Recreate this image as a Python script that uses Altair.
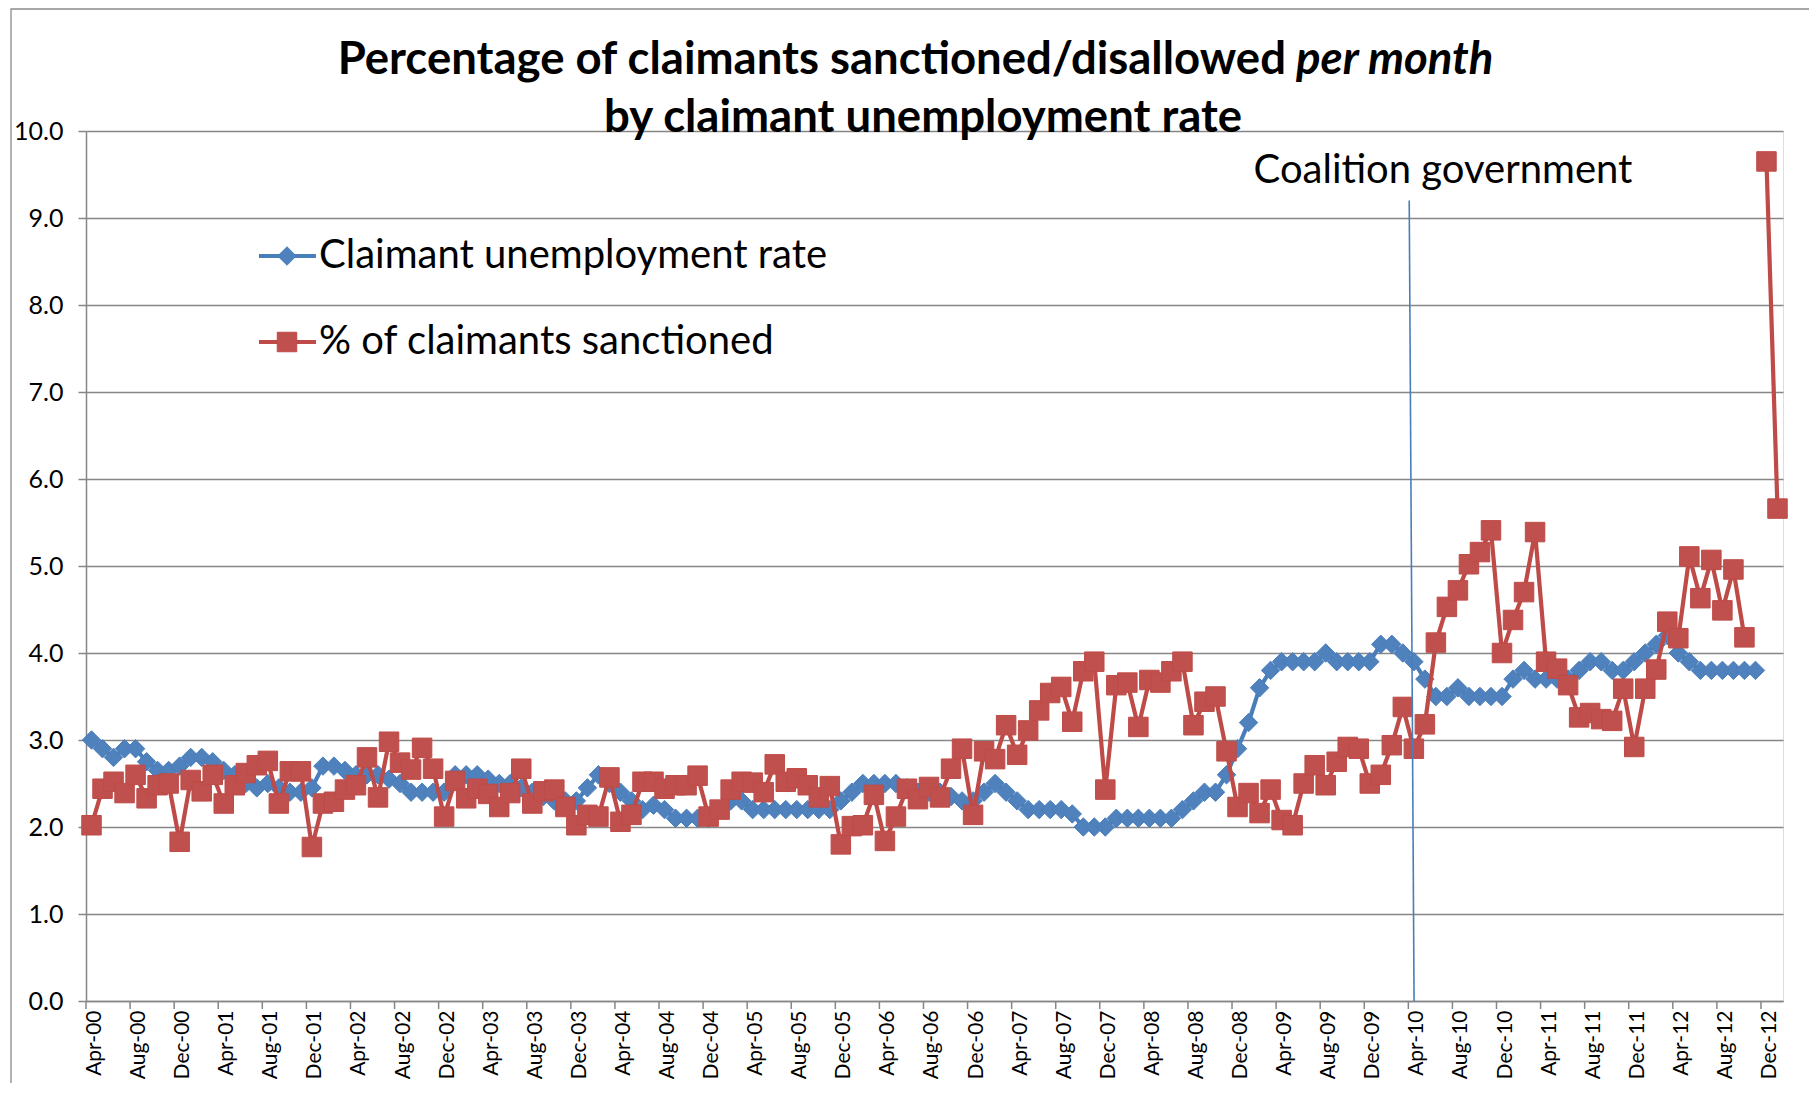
import json
import altair as alt
import pandas as pd

# ---------------- data ----------------
tick_labels = ["Apr-00", "Aug-00", "Dec-00", "Apr-01", "Aug-01", "Dec-01", "Apr-02", "Aug-02", "Dec-02",
               "Apr-03", "Aug-03", "Dec-03", "Apr-04", "Aug-04", "Dec-04", "Apr-05", "Aug-05", "Dec-05",
               "Apr-06", "Aug-06", "Dec-06", "Apr-07", "Aug-07", "Dec-07", "Apr-08", "Aug-08", "Dec-08",
               "Apr-09", "Aug-09", "Dec-09", "Apr-10", "Aug-10", "Dec-10", "Apr-11", "Aug-11", "Dec-11",
               "Apr-12", "Aug-12", "Dec-12"]

# monthly, Apr-00 .. Nov-12
unemployment_rate = [
    3.0, 2.9, 2.8, 2.9, 2.9, 2.75, 2.65, 2.65, 2.7, 2.8,
    2.8, 2.75, 2.65, 2.6, 2.5, 2.45, 2.5, 2.45, 2.4, 2.4,
    2.45, 2.7, 2.7, 2.65, 2.6, 2.6, 2.6, 2.55, 2.5, 2.4,
    2.4, 2.4, 2.4, 2.6, 2.6, 2.6, 2.55, 2.5, 2.5, 2.45,
    2.4, 2.35, 2.3, 2.3, 2.3, 2.45, 2.6, 2.5, 2.4, 2.3,
    2.2, 2.25, 2.2, 2.1, 2.1, 2.1, 2.1, 2.2, 2.3, 2.3,
    2.2, 2.2, 2.2, 2.2, 2.2, 2.2, 2.2, 2.2, 2.3, 2.4,
    2.5, 2.5, 2.5, 2.5, 2.45, 2.4, 2.4, 2.4, 2.35, 2.3,
    2.3, 2.4, 2.5, 2.4, 2.3, 2.2, 2.2, 2.2, 2.2, 2.15,
    2.0, 2.0, 2.0, 2.1, 2.1, 2.1, 2.1, 2.1, 2.1, 2.2,
    2.3, 2.4, 2.4, 2.6, 2.9, 3.2, 3.6, 3.8, 3.9, 3.9,
    3.9, 3.9, 4.0, 3.9, 3.9, 3.9, 3.9, 4.1, 4.1, 4.0,
    3.9, 3.7, 3.5, 3.5, 3.6, 3.5, 3.5, 3.5, 3.5, 3.7,
    3.8, 3.7, 3.7, 3.7, 3.7, 3.8, 3.9, 3.9, 3.8, 3.8,
    3.9, 4.0, 4.1, 4.2, 4.0, 3.9, 3.8, 3.8, 3.8, 3.8,
    3.8, 3.8,
]

# monthly, Apr-00 .. Jan-13 (Nov-12 missing)
sanction_rate = [
    2.02, 2.44, 2.52, 2.39, 2.60, 2.33, 2.48, 2.50, 1.83, 2.54,
    2.41, 2.60, 2.27, 2.48, 2.62, 2.71, 2.76, 2.27, 2.64, 2.64,
    1.77, 2.27, 2.29, 2.43, 2.48, 2.80, 2.34, 2.98, 2.74, 2.66,
    2.91, 2.67, 2.12, 2.53, 2.33, 2.44, 2.38, 2.23, 2.39, 2.67,
    2.27, 2.41, 2.43, 2.23, 2.02, 2.14, 2.12, 2.57, 2.06, 2.14,
    2.52, 2.52, 2.44, 2.48, 2.48, 2.59, 2.12, 2.20, 2.43, 2.52,
    2.51, 2.40, 2.72, 2.52, 2.56, 2.48, 2.34, 2.47, 1.80, 2.01,
    2.02, 2.37, 1.84, 2.12, 2.44, 2.32, 2.46, 2.34, 2.67, 2.90,
    2.14, 2.87, 2.78, 3.17, 2.83, 3.11, 3.34, 3.54, 3.61, 3.21,
    3.79, 3.90, 2.43, 3.63, 3.66, 3.15, 3.69, 3.66, 3.79, 3.90,
    3.17, 3.44, 3.50, 2.87, 2.23, 2.39, 2.16, 2.43, 2.08, 2.02,
    2.50, 2.71, 2.48, 2.75, 2.92, 2.90, 2.50, 2.60, 2.94, 3.38,
    2.90, 3.18, 4.12, 4.53, 4.72, 5.02, 5.16, 5.41, 4.00, 4.38,
    4.70, 5.39, 3.90, 3.82, 3.63, 3.26, 3.31, 3.24, 3.22, 3.59,
    2.92, 3.59, 3.81, 4.36, 4.17, 5.11, 4.63, 5.07, 4.49, 4.96,
    4.18, None, 9.65, 5.66,
]

y_ticks = [0, 1, 2, 3, 4, 5, 6, 7, 8, 9, 10]
title_main = "Percentage of claimants sanctioned/disallowed"
title_italic = "per month"
title_line2 = "by claimant unemployment rate"
legend_labels = ["Claimant unemployment rate", "% of claimants sanctioned"]
annotation_text = "Coalition government"
coalition_month = 120  # Apr-10

# ---------------- style ----------------
BLUE_LINE = "#4A7EBB"
BLUE_FILL = "#4F81BD"
RED_LINE = "#BE4B48"
RED_FILL = "#C0504D"
GRID = "#868686"
FONT = "Lato"
W, H = 1697, 870
n_months = len(sanction_rate)
DIAMOND = 340
SQUARE = 380
LINE_W = 4.2

u = pd.DataFrame({"m": list(range(len(unemployment_rate))), "v": unemployment_rate})
s = pd.DataFrame({"m": list(range(len(sanction_rate))), "v": sanction_rate})
tick_df = pd.DataFrame({"m": [i - 0.5 for i in range(0, 4 * len(tick_labels), 4)]})
one = pd.DataFrame({"a": [0]})

xscale = alt.Scale(domain=[-0.5, n_months - 0.5], nice=False, zero=False)
yscale = alt.Scale(domain=[0, 10], nice=False)

label_expr = json.dumps(tick_labels) + "[round(datum.value / 4)]"
x_axis = alt.Axis(values=list(range(0, 4 * len(tick_labels), 4)), labelExpr=label_expr,
                  labelAngle=270, ticks=False, grid=False, labelFont=FONT, labelFontSize=21,
                  labelColor="#000000", labelPadding=9, labelOffset=3, domainColor=GRID,
                  domainWidth=1.5, labelOverlap=False, labelFlush=False, title=None)
y_axis = alt.Axis(values=y_ticks, format=".1f", grid=True, gridColor=GRID, gridWidth=1.5,
                  tickSize=8, tickColor=GRID, tickWidth=1.5, domainColor=GRID, domainWidth=1.5,
                  labelFont=FONT, labelFontSize=25, labelColor="#000000", labelPadding=15,
                  title=None)

X = alt.X("m:Q", scale=xscale, axis=x_axis)
Y = alt.Y("v:Q", scale=yscale, axis=y_axis)

frame = alt.Chart(one).mark_rect(fillOpacity=0, stroke="#8a8a8a", strokeWidth=1.3).encode(
    x=alt.value(-75), x2=alt.value(W + 300), y=alt.value(-122), y2=alt.value(H + 300))

blue_line = alt.Chart(u).mark_line(color=BLUE_LINE, strokeWidth=LINE_W).encode(x=X, y=Y)
blue_pts = alt.Chart(u).mark_point(shape="diamond", filled=True, size=DIAMOND, fill=BLUE_FILL,
                                   stroke=BLUE_LINE, strokeWidth=1, opacity=1).encode(x=X, y=Y)
red_line = alt.Chart(s).mark_line(color=RED_LINE, strokeWidth=LINE_W).encode(x=X, y=Y)
red_pts = alt.Chart(s).mark_point(shape="square", filled=True, size=SQUARE, fill=RED_FILL,
                                  stroke=RED_LINE, strokeWidth=1, opacity=1).encode(x=X, y=Y)

xticks = alt.Chart(tick_df).mark_rule(color=GRID, strokeWidth=1.5).encode(
    x=X, y=alt.value(H), y2=alt.value(H + 8))

coal_df = pd.DataFrame({"m": [coalition_month - 0.42], "m2": [coalition_month + 0.02],
                        "v": [9.2], "v2": [0.0]})
coal_line = alt.Chart(coal_df).mark_rule(color=BLUE_LINE, strokeWidth=1.6).encode(
    x=X, x2="m2:Q", y=Y, y2="v2:Q")
coal_text = alt.Chart(one).mark_text(text=annotation_text, font=FONT, fontSize=40,
                                     align="center", baseline="middle", color="#000000").encode(
    x=alt.value(1357), y=alt.value(40))

TFS = 45.5
t1 = alt.Chart(one).mark_text(text=title_main, font=FONT, fontSize=TFS, fontWeight="bold",
                              align="right", baseline="alphabetic", color="#000000").encode(
    x=alt.value(1200), y=alt.value(-57))
t2 = alt.Chart(one).mark_text(text=title_italic, font=FONT, fontSize=TFS, fontWeight="bold",
                              fontStyle="italic", align="left", baseline="alphabetic",
                              color="#000000").encode(x=alt.value(1210), y=alt.value(-57))
t3 = alt.Chart(one).mark_text(text=title_line2, font=FONT, fontSize=TFS, fontWeight="bold",
                              align="center", baseline="alphabetic", color="#000000").encode(
    x=alt.value(837), y=alt.value(1))

# manual legend
leg = []
for k, (lab, lc, fc, shp, sz) in enumerate([(legend_labels[0], BLUE_LINE, BLUE_FILL, "diamond", DIAMOND),
                                            (legend_labels[1], RED_LINE, RED_FILL, "square", SQUARE)]):
    yy = 125 + 86 * k
    leg.append(alt.Chart(one).mark_rule(color=lc, strokeWidth=LINE_W).encode(
        x=alt.value(173), x2=alt.value(230), y=alt.value(yy)))
    leg.append(alt.Chart(one).mark_point(shape=shp, filled=True, size=sz, fill=fc, stroke=lc,
                                         strokeWidth=1, opacity=1).encode(
        x=alt.value(201), y=alt.value(yy)))
    leg.append(alt.Chart(one).mark_text(text=lab, font=FONT, fontSize=40, align="left",
                                        baseline="middle", color="#000000").encode(
        x=alt.value(233), y=alt.value(yy)))

chart = alt.layer(
    frame, xticks, blue_line, blue_pts, red_line, red_pts, coal_line, coal_text, t1, t2, t3, *leg
).properties(
    width=W, height=H,
    padding={"left": 78, "top": 123, "right": 26, "bottom": 82},
    autosize=alt.AutoSizeParams(type="none"),
).configure_view(stroke=None).configure(background="white")

chart.save("out.html", embed_options={"renderer": "svg", "actions": False})
